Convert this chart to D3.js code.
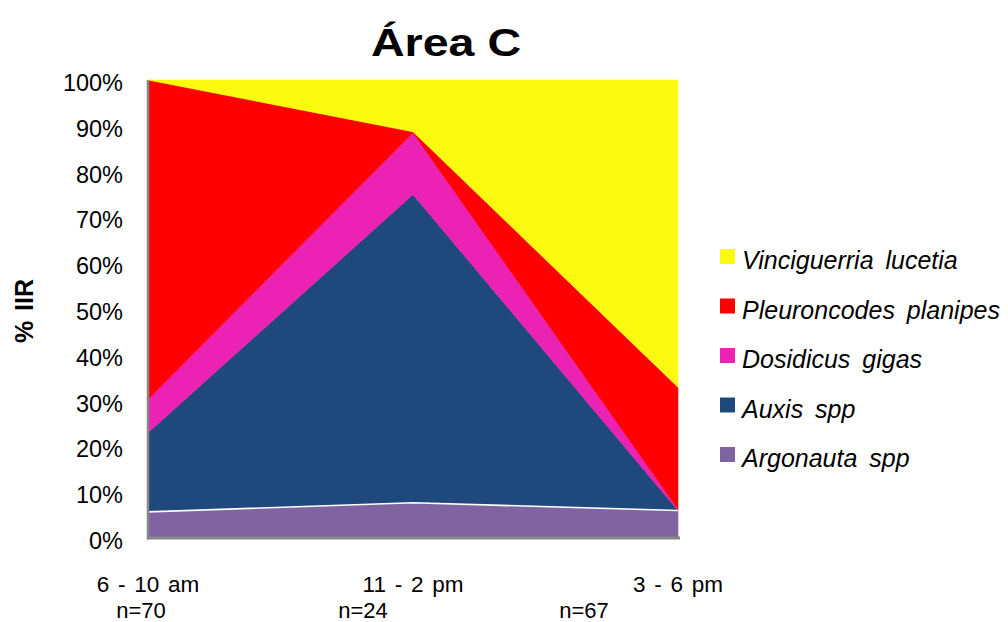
<!DOCTYPE html>
<html>
<head>
<meta charset="utf-8">
<script src="https://cdn.jsdelivr.net/npm/d3@7/dist/d3.min.js"></script>
<style>
  html, body { margin: 0; padding: 0; background: #ffffff; }
  svg { display: block; font-family: "Liberation Sans", Arial, sans-serif; }
</style>
</head>
<body>
<svg id="chart" width="1008" height="622"></svg>
<script>
// Time-of-day periods and sample sizes
const periods = ["6 - 10 am", "11 - 2 pm", "3 - 6 pm"];
const sampleSizes = ["n=70", "n=24", "n=67"];

// % IIR per prey item, per period (stacked to 100%)
const argonauta    = [5.7, 7.7, 6.0];
const auxis        = [17.3, 67.3, 0.0];
const dosidicus    = [7.3, 13.5, 0.3];
const pleuroncodes = [69.7, 0.2, 26.6];
const vinciguerria = [0.0, 11.3, 67.1];

const yTicks = [0, 10, 20, 30, 40, 50, 60, 70, 80, 90, 100];

// Series, bottom of the stack first
const seriesDefs = [
  { key: "argonauta",    label: "Argonauta spp",          values: argonauta,    color: "#8064A2" },
  { key: "auxis",        label: "Auxis spp",              values: auxis,        color: "#1F497D" },
  { key: "dosidicus",    label: "Dosidicus gigas",        values: dosidicus,    color: "#EC22B4" },
  { key: "pleuroncodes", label: "Pleuroncodes planipes",  values: pleuroncodes, color: "#FF0000" },
  { key: "vinciguerria", label: "Vinciguerria lucetia",   values: vinciguerria, color: "#FBFB0F" }
];

const rows = periods.map((p, i) => {
  const r = { period: p };
  seriesDefs.forEach(s => { r[s.key] = s.values[i]; });
  return r;
});

const svg = d3.select("#chart");

const plot = { left: 148, right: 678, top: 80, bottom: 538 };

const x = d3.scalePoint().domain(periods).range([plot.left, plot.right]);
const y = d3.scaleLinear().domain([0, 100]).range([plot.bottom, plot.top]);

const stacked = d3.stack().keys(seriesDefs.map(s => s.key))(rows);

const area = d3.area()
  .x(d => x(d.data.period))
  .y0(d => y(d[0]))
  .y1(d => y(d[1]));

svg.append("g")
  .selectAll("path")
  .data(stacked)
  .join("path")
  .attr("d", area)
  .attr("fill", (d, i) => seriesDefs[i].color)
  .attr("stroke", (d, i) => seriesDefs[i].color)
  .attr("stroke-width", 0.6);

// thin white edge along the top of the lowest band
const topLine = d3.line()
  .x(d => x(d.data.period))
  .y(d => y(d[1]));
svg.append("path")
  .attr("d", topLine(stacked[0]))
  .attr("fill", "none")
  .attr("stroke", "#ffffff")
  .attr("stroke-width", 1.6);

// axes lines
svg.append("line")
  .attr("x1", plot.left).attr("x2", plot.left)
  .attr("y1", y(100)).attr("y2", plot.bottom + 1.5)
  .attr("stroke", "#868686").attr("stroke-width", 2.5);
svg.append("line")
  .attr("x1", plot.left - 1).attr("x2", plot.right + 2)
  .attr("y1", plot.bottom).attr("y2", plot.bottom)
  .attr("stroke", "#868686").attr("stroke-width", 3);

// y tick labels
svg.append("g")
  .selectAll("text")
  .data(yTicks)
  .join("text")
  .attr("x", 123)
  .attr("y", d => y(d) + 11)
  .attr("text-anchor", "end")
  .attr("font-size", 23.5)
  .attr("fill", "#000")
  .text(d => d + "%");

// x category labels
svg.append("g")
  .selectAll("text")
  .data(periods)
  .join("text")
  .attr("x", d => x(d))
  .attr("y", 592)
  .attr("text-anchor", "middle")
  .attr("font-size", 22.5)
  .attr("word-spacing", 2.5)
  .attr("fill", "#000")
  .text(d => d);

// sample sizes under the categories
const nOffsets = [-7, -50, -94];
svg.append("g")
  .selectAll("text")
  .data(sampleSizes)
  .join("text")
  .attr("x", (d, i) => x(periods[i]) + nOffsets[i])
  .attr("y", 617.5)
  .attr("text-anchor", "middle")
  .attr("font-size", 22)
  .attr("fill", "#000")
  .text(d => d);

// title
svg.append("text")
  .attr("x", 446)
  .attr("y", 56)
  .attr("text-anchor", "middle")
  .attr("font-size", 39)
  .attr("font-weight", "bold")
  .attr("textLength", 150)
  .attr("lengthAdjust", "spacingAndGlyphs")
  .text("Área C");

// y axis title
svg.append("text")
  .attr("transform", "translate(33,311) rotate(-90)")
  .attr("text-anchor", "middle")
  .attr("font-size", 25)
  .attr("font-weight", "bold")
  .attr("word-spacing", 3)
  .text("% IIR");

// legend, top entry first
const legendItems = seriesDefs.slice().reverse();
const legend = svg.append("g")
  .selectAll("g")
  .data(legendItems)
  .join("g")
  .attr("transform", (d, i) => `translate(720, ${249 + i * 49.5})`);
legend.append("rect")
  .attr("width", 15).attr("height", 15)
  .attr("fill", d => d.color);
legend.append("text")
  .attr("x", 22)
  .attr("y", 20)
  .attr("font-size", 25)
  .attr("font-style", "italic")
  .attr("word-spacing", 5)
  .text(d => d.label);
</script>
</body>
</html>
